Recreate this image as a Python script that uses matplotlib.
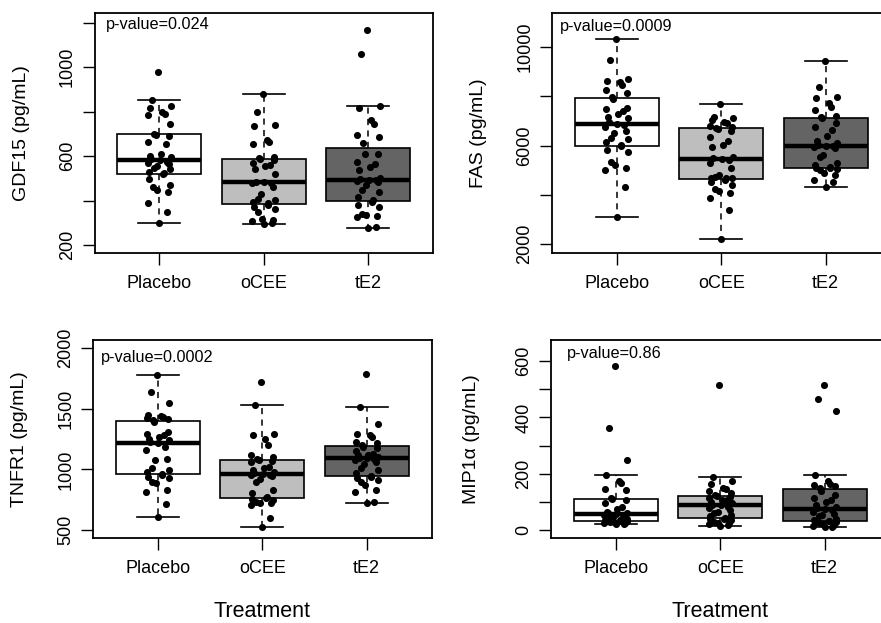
import numpy as np
import matplotlib
matplotlib.use('Agg')
import matplotlib.pyplot as plt

plt.rcParams['font.family'] = ['Liberation Sans', 'DejaVu Sans']

groups = ['Placebo', 'oCEE', 'tE2']
box_colors = ['white', '#bebebe', '#646464']

# GDF15 (pg/mL)
gdf15_placebo = [300, 347, 387, 439, 447, 462, 469, 496, 518, 524, 530, 540, 548, 556, 562, 568, 575, 581,
                 588, 594, 600, 608, 655, 662, 690, 695, 701, 746, 783, 790, 798, 815, 825, 850, 977]
gdf15_ocee = [294, 300, 310, 314, 318, 350, 364, 372, 379, 389, 394, 402, 405, 429, 460, 478, 480, 481,
              484, 521, 540, 556, 559, 570, 580, 585, 589, 596, 653, 663, 671, 735, 738, 798, 880]
gdf15_te2 = [278, 280, 327, 330, 335, 340, 369, 379, 392, 402, 415, 439, 447, 470, 484, 488, 490, 492,
             496, 500, 536, 551, 563, 574, 608, 611, 657, 686, 693, 746, 760, 818, 823, 1060, 1167]

# FAS (pg/mL)
fas_placebo = [3080, 4308, 5010, 5077, 5212, 5347, 5750, 5819, 5960, 6002, 6156, 6250, 6300, 6494, 6600,
               6765, 6830, 6872, 6950, 7100, 7170, 7277, 7400, 7466, 7506, 7900, 7976, 8140, 8248, 8450,
               8586, 8626, 8700, 9490, 10340]
fas_ocee = [2202, 3390, 3862, 4065, 4132, 4227, 4402, 4537, 4600, 4664, 4672, 4700, 4740, 4807, 5077,
            5280, 5400, 5441, 5500, 5549, 5954, 6022, 6200, 6359, 6600, 6680, 6712, 6764, 6800, 6900,
            6966, 7050, 7100, 7170, 7668]
fas_te2 = [4308, 4537, 4605, 4807, 4875, 5010, 5040, 5077, 5090, 5118, 5212, 5280, 5549, 5617, 5886,
           5950, 5980, 5995, 6022, 6089, 6200, 6386, 6630, 6764, 6900, 7100, 7156, 7196, 7438, 7574,
           7709, 7911, 7980, 8383, 9422]

# TNFR1 (pg/mL)
tnfr1_placebo = [610, 711, 815, 829, 884, 898, 925, 939, 952, 964, 980, 994, 1007, 1076, 1084, 1158, 1185,
                 1221, 1227, 1240, 1254, 1268, 1280, 1295, 1309, 1391, 1407, 1415, 1424, 1432, 1440, 1450,
                 1547, 1638, 1775]
tnfr1_ocee = [522, 601, 706, 719, 725, 733, 745, 755, 760, 772, 802, 829, 898, 920, 947, 950, 955, 958,
              966, 980, 994, 1007, 1020, 1062, 1070, 1076, 1086, 1103, 1117, 1199, 1254, 1281, 1295,
              1528, 1720]
tnfr1_te2 = [719, 733, 815, 829, 870, 898, 911, 925, 940, 948, 966, 994, 1010, 1048, 1062, 1076, 1085,
             1090, 1095, 1103, 1117, 1120, 1130, 1150, 1172, 1185, 1197, 1213, 1227, 1268, 1281, 1295,
             1377, 1515, 1789]

# MIP1a (pg/mL)
mip_placebo = [20, 22, 24, 26, 28, 30, 31, 32, 33, 34, 36, 40, 42, 45, 48, 52, 54, 56, 60, 62, 65, 75,
               83, 95, 105, 110, 112, 143, 145, 167, 173, 194, 250, 363, 583]
mip_ocee = [15, 18, 20, 24, 26, 30, 36, 38, 40, 44, 48, 52, 60, 65, 71, 78, 83, 87, 90, 95, 100, 105,
            107, 112, 117, 119, 123, 130, 137, 145, 149, 165, 173, 187, 514]
mip_te2 = [10, 11, 14, 18, 20, 24, 28, 30, 31, 33, 36, 40, 48, 52, 57, 64, 71, 74, 78, 83, 90, 98, 105,
           113, 125, 140, 150, 155, 161, 165, 175, 194, 423, 464, 514]

gdf15_ticks = [200, 400, 600, 800, 1000, 1200]
gdf15_labels = ['200', '', '600', '', '1000', '']
fas_ticks = [2000, 4000, 6000, 8000, 10000]
fas_labels = ['2000', '', '6000', '', '10000']
tnfr1_ticks = [500, 1000, 1500, 2000]
tnfr1_labels = ['500', '1000', '1500', '2000']
mip_ticks = [0, 100, 200, 300, 400, 500, 600]
mip_labels = ['0', '', '200', '', '400', '', '600']

pvalues = ['p-value=0.024', 'p-value=0.0009', 'p-value=0.0002', 'p-value=0.86']

fig = plt.figure(figsize=(8.81, 6.23), dpi=100)
fig.patch.set_facecolor('white')


def panel(rect, data, ylim, ticks, labels, ylabel, ptext, ppos, ylab_x, xlabel=None):
    ax = fig.add_axes(rect)
    pos = [1, 2, 3]
    bp = ax.boxplot(data, positions=pos, widths=0.8, capwidths=0.4, whis=1.5,
                    showfliers=False, patch_artist=True,
                    medianprops=dict(color='black', linewidth=3.2, solid_capstyle='butt'),
                    whiskerprops=dict(color='black', linewidth=1.1, linestyle=(0, (4, 3.5))),
                    capprops=dict(color='black', linewidth=1.2),
                    boxprops=dict(edgecolor='black', linewidth=1.2))
    for patch, c in zip(bp['boxes'], box_colors):
        patch.set_facecolor(c)
    for i, vals in enumerate(data):
        off = 0.11 * np.sin(np.arange(len(vals)) * 2.39996)
        ax.scatter(pos[i] + off, vals, s=26, color='black', linewidths=0, zorder=5)
    ax.set_xlim(0.38, 3.62)
    ax.set_ylim(*ylim)
    ax.set_xticks(pos)
    ax.set_xticklabels(groups)
    ax.set_yticks(ticks)
    ax.set_yticklabels(labels, rotation=90, va='center')
    ax.tick_params(direction='out', length=8.5, width=1.0, labelsize=13, color='black')
    ax.tick_params(axis='x', pad=7)
    ax.tick_params(axis='y', pad=5)
    for s in ax.spines.values():
        s.set_linewidth(1.3)
    ax.set_ylabel(ylabel, fontsize=14)
    ax.yaxis.set_label_coords(ylab_x, 0.5)
    ax.text(ppos[0], ppos[1], ptext, transform=ax.transAxes, ha='left', va='center', fontsize=11.7)
    if xlabel:
        ax.set_xlabel(xlabel, fontsize=15.5)
        ax.xaxis.set_label_coords(0.5, -0.32)
    return ax


W, H = 881.0, 623.0
pw = 338.5 / W
panel([94.5 / W, 1 - 253 / H, pw, 240 / H], [gdf15_placebo, gdf15_ocee, gdf15_te2],
      (164, 1243), gdf15_ticks, gdf15_labels, 'GDF15 (pg/mL)', pvalues[0], (0.035, 0.95), -0.19)
panel([552 / W, 1 - 253 / H, pw, 240 / H], [fas_placebo, fas_ocee, fas_te2],
      (1634, 11382), fas_ticks, fas_labels, 'FAS (pg/mL)', pvalues[1], (0.022, 0.942), -0.192)
panel([93 / W, 1 - 538 / H, pw, 198 / H], [tnfr1_placebo, tnfr1_ocee, tnfr1_te2],
      (434, 2066), tnfr1_ticks, tnfr1_labels, 'TNFR1 (pg/mL)', pvalues[2], (0.022, 0.914), -0.192,
      xlabel='Treatment')
panel([551 / W, 1 - 538 / H, pw, 198 / H], [mip_placebo, mip_ocee, mip_te2],
      (-28.6, 675), mip_ticks, mip_labels, 'MIP1\u03b1 (pg/mL)', pvalues[3], (0.048, 0.934), -0.21,
      xlabel='Treatment')

fig.savefig('out.png', dpi=100)
